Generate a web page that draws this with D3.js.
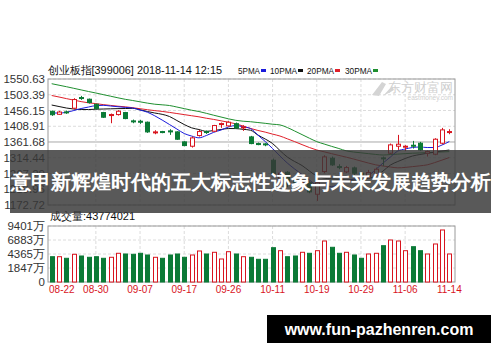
<!DOCTYPE html>
<html>
<head>
<meta charset="utf-8">
<script src="https://cdn.jsdelivr.net/npm/d3@7"></script>
<style>
  body { margin: 0; background: #fff; }
  svg { display: block; }
  text { font-family: "Liberation Sans", Arial, sans-serif; }
</style>
</head>
<body>
<div id="chart"></div>
<script>
const dates = ['08-22','08-23','08-24','08-27','08-28','08-29','08-30','08-31',
  '09-03','09-04','09-05','09-06','09-07','09-10','09-11','09-12','09-13','09-14','09-17','09-18','09-19','09-20','09-21','09-25','09-26','09-27','09-28',
  '10-08','10-09','10-10','10-11','10-12','10-15','10-16','10-17','10-18','10-19','10-22','10-23','10-24','10-25','10-26','10-29','10-30','10-31',
  '11-01','11-02','11-05','11-06','11-07','11-08','11-09','11-12','11-13','11-14'];
const dateTicks = ['08-22','08-30','09-07','09-17','09-26','10-11','10-19','10-29','11-06','11-14'];

const open  = [1453.7,1444.7,1452,1463,1495,1490,1475,1450,1441,1444,1450,1425,1424,1421,1390,1393,1395,1392,1362,1349,1381,1393,1394,1414,1410,1416.6,1405,1377,1357,1356,1307,1248,1271,1245,1230,1240,1205,1273,1313,1288,1272,1284,1268,1258,1262,1314,1328,1349,1347,1352,1358,1328,1325,1358,1391];
const high  = [1456,1455,1456,1493,1500,1492,1476,1452,1447,1457,1452,1429,1428,1423,1397,1395,1400,1394,1364,1378,1398,1396,1413,1420,1424,1420,1412,1380,1360,1358,1312,1275,1274,1250,1245,1244,1245,1322,1318,1295,1290,1288,1272,1278,1285,1318,1357,1383,1352,1365,1362,1336,1373,1404,1400];
const low   = [1440,1443,1446,1460,1488,1477,1459,1434,1418,1441,1430,1418,1416,1389,1385,1388,1383,1368,1349,1345,1378,1386,1392,1404,1408,1402,1395,1355,1352,1349,1263,1240,1226,1228,1226,1208,1185,1268,1290,1280,1268,1263,1252,1254,1258,1290,1325,1338,1335,1342,1335,1318,1322,1355,1385];
const close = [1443.5,1451.6,1450,1489,1493,1480,1462,1436,1444,1454,1432,1423,1422,1392,1392,1390,1392,1370,1351,1374,1393,1391,1411,1417,1421,1403.6,1407,1357,1356,1354,1267,1268,1236,1232,1240,1212,1240,1317,1293,1287,1285,1268,1258,1270,1280,1312,1353,1355,1349,1350,1338,1333,1370,1398,1393];

// volume in 万
const volume = [3880,3880,3593,4312,4006,3773,3880,3593,3773,4492,4366,4312,4492,4186,3773,3593,4186,4366,3773,4186,4906,4366,4672,3467,4780,4366,3880,
  3773,3413,3413,5500,4960,3880,4006,4672,4492,4960,6705,5572,4492,4672,4186,3593,4366,4492,5860,6885,6705,4960,5680,4960,4366,6165,8684,4366];

const ma5  = [1448.6,1448.6,1450.7,1456.1,1462.1,1466.6,1470.8,1471.7,1469.6,1467.5,1465.4,1463.6,1457.6,1451,1440.2,1427.6,1414.1,1400.6,1387.1,1379.6,1374.2,1381.1,1390.7,1397.6,1406.6,1411.1,1407.2,1402.1,1382.6,1363.1,1342.1,1319.6,1298.6,1280.6,1264.1,1247.6,1232.6,1230.2,1228.1,1234.1,1243.1,1250.6,1255.1,1261.1,1279.1,1298.6,1316.6,1334.6,1340.6,1345.1,1346.6,1345.1,1345.1,1352.6,1363.1];
const ma10 = [1472.6,1468.1,1463.6,1460.6,1459.1,1459.1,1460,1460.6,1461.2,1461.8,1462.1,1462.7,1458.2,1453.1,1448.6,1444.7,1438.1,1426.1,1414.1,1404.2,1399.1,1393.7,1396.1,1399.1,1402.1,1401.8,1399.7,1397,1382.6,1370.6,1357.1,1336.1,1316.6,1303.1,1291.1,1274.6,1259.6,1253.3,1251.2,1249.7,1248.2,1248.2,1250.3,1252.4,1259.6,1274.6,1292.6,1303.1,1312.1,1319.6,1324.1,1327.7,1331.3,1334.6,1337.6];
const ma20 = [1501.1,1496.6,1491.8,1487.3,1482.8,1479.2,1476.8,1473.8,1471.4,1469,1467.2,1464.5,1461.5,1458.5,1455.8,1453.4,1450.4,1447.1,1443.8,1440.5,1437.2,1433,1429.4,1425.2,1421,1416.2,1409.6,1402.4,1396.4,1391.3,1385.3,1379.6,1371.2,1362.8,1353.8,1345.1,1337.6,1332.2,1326.8,1321.4,1316.3,1310.6,1304.6,1298.6,1293.2,1289.6,1286.6,1284.2,1285.4,1287.8,1290.2,1293.2,1299.8,1307.3,1315.1];
const ma30 = [1536.5,1532,1527.5,1522.7,1517.9,1513.1,1508.6,1503.8,1499,1494.2,1489.7,1486.1,1482.2,1478.3,1475,1473.2,1471.1,1466.6,1461.8,1457,1453.1,1447.7,1442,1436.6,1431.2,1426.7,1424,1422.5,1420.1,1417.7,1415,1412.9,1405.1,1394.6,1383.8,1373,1362.8,1355.6,1348.7,1342.1,1335.2,1331.6,1329.2,1326.8,1324.4,1322.6,1324.1,1325.3,1326.8,1328,1328.9,1329.8,1331,1331.9,1332.8];

const priceTicks = [1550.63,1503.39,1456.15,1408.91,1361.68,1314.44,1267.20,1219.96,1172.72];
const volTicks = [9401,6883,4365,1847];

const maNames = ['5PMA','10PMA','20PMA','30PMA'];
const maColors = ['#1a1adb','#111111','#e0202a','#1f8f2f'];

const W = 500, H = 362;
const RED = '#d8141e', GREEN = '#0b7a36';

const svg = d3.select('#chart').append('svg')
    .attr('width', W).attr('height', H);

const left = 48, right = 455;
const pTop = 79, pBottom = 205;
const vTop = 226, vBottom = 282;

const x = d3.scaleBand().domain(dates).range([left, 453]);
const cx = d => x(d) + x.bandwidth() / 2;
const y = d3.scaleLinear().domain([priceTicks[priceTicks.length - 1], priceTicks[0]]).range([pBottom, pTop]);
const volStep = volTicks[0] - volTicks[1];
const yv = d3.scaleLinear().domain([volTicks[volTicks.length - 1] - volStep, volTicks[0]]).range([vBottom, vTop]);

// title + legend
svg.append('text')
    .attr('x', 48).attr('y', 74)
    .attr('font-family', '"Noto Sans CJK SC", sans-serif')
    .attr('font-size', 11).attr('fill', '#111')
    .attr('textLength', 174).attr('lengthAdjust', 'spacingAndGlyphs')
    .text('创业板指[399006] 2018-11-14 12:15');

const legendX = [238, 270, 307, 345];
const legend = svg.selectAll('.legend')
    .data(maNames)
    .enter().append('g')
    .attr('class', 'legend')
    .attr('transform', (d, i) => 'translate(' + legendX[i] + ',74)');
legend.append('text')
    .attr('font-size', 9.5).attr('fill', '#111')
    .attr('textLength', (d, i) => i === 0 ? 22 : 27)
    .attr('lengthAdjust', 'spacingAndGlyphs')
    .text(d => d);
legend.append('rect')
    .attr('x', (d, i) => i === 0 ? 23 : 28).attr('y', -5)
    .attr('width', 5).attr('height', 3)
    .attr('fill', (d, i) => maColors[i]);

// price panel grid
const gP = svg.append('g');
gP.selectAll('line.h')
    .data(priceTicks)
    .enter().append('line')
    .attr('x1', left).attr('x2', right)
    .attr('y1', d => y(d)).attr('y2', d => y(d))
    .attr('stroke', (d, i) => i === 4 ? '#a8a8a8' : '#dcdcdc')
    .attr('stroke-dasharray', (d, i) => i === 4 ? null : '3,2');
gP.selectAll('line.v')
    .data(dateTicks.slice(1, -1))
    .enter().append('line')
    .attr('x1', d => cx(d)).attr('x2', d => cx(d))
    .attr('y1', pTop).attr('y2', pBottom)
    .attr('stroke', '#dcdcdc').attr('stroke-dasharray', '3,2');
gP.append('rect')
    .attr('x', left).attr('y', pTop)
    .attr('width', right - left).attr('height', pBottom - pTop)
    .attr('fill', 'none').attr('stroke', '#9a9a9a');

// watermark
svg.append('text')
    .attr('x', 453).attr('y', 92).attr('text-anchor', 'end')
    .attr('font-family', '"Noto Sans CJK SC", sans-serif')
    .attr('font-size', 13).attr('fill', '#cfcfcf')
    .text('东方财富网');
svg.append('text')
    .attr('x', 453).attr('y', 100).attr('text-anchor', 'end')
    .attr('font-size', 6.5).attr('fill', '#cfcfcf')
    .text('eastmoney.com');
svg.append('path')
    .attr('d', 'M372,95 L382,82 L386,84 L379,96 Z M383,96 L392,86 L394,90 Z')
    .attr('fill', '#d4d4d4');

// price axis
const yAxis = d3.axisLeft(y).tickValues(priceTicks).tickFormat(d3.format('.2f')).tickSize(0).tickPadding(3);
svg.append('g')
    .attr('transform', 'translate(' + left + ',0)')
    .call(yAxis)
    .call(g => g.select('.domain').remove())
    .call(g => g.selectAll('text').attr('font-size', 11.5).attr('fill', '#333').attr('font-family', '"Liberation Sans", Arial, sans-serif'));

// MA lines
const maSeries = [ma5, ma10, ma20, ma30];
const line = d3.line().x((d, i) => cx(dates[i])).y(d => y(d)).curve(d3.curveMonotoneX);
svg.selectAll('path.ma')
    .data(maSeries.slice().reverse())
    .enter().append('path')
    .attr('class', 'ma')
    .attr('d', d => line(d))
    .attr('fill', 'none')
    .attr('stroke', (d, i) => maColors[3 - i])
    .attr('stroke-width', 1);

// candles
const candles = dates.map((d, i) => ({ date: d, o: open[i], h: high[i], l: low[i], c: close[i] }));
const bw = 5;
const cg = svg.selectAll('g.candle')
    .data(candles)
    .enter().append('g')
    .attr('class', 'candle');
cg.append('line')
    .attr('x1', d => Math.round(cx(d.date)) + 0.5).attr('x2', d => Math.round(cx(d.date)) + 0.5)
    .attr('y1', d => y(d.h)).attr('y2', d => y(d.l))
    .attr('stroke', d => d.c >= d.o ? RED : GREEN);
cg.append('rect')
    .attr('x', d => Math.round(cx(d.date)) - 2 + 0.5)
    .attr('y', d => y(Math.max(d.o, d.c)))
    .attr('width', bw - 1)
    .attr('height', d => Math.max(1, Math.abs(y(d.o) - y(d.c))))
    .attr('fill', d => d.c >= d.o ? '#fff' : GREEN)
    .attr('stroke', d => d.c >= d.o ? RED : GREEN);

// volume panel
svg.append('text')
    .attr('x', 50).attr('y', 220)
    .attr('font-family', '"Noto Sans CJK SC", sans-serif')
    .attr('font-size', 11).attr('fill', '#111')
    .text('成交量:43774021');

const gV = svg.append('g');
gV.selectAll('line.h')
    .data(volTicks)
    .enter().append('line')
    .attr('x1', left).attr('x2', right)
    .attr('y1', d => yv(d)).attr('y2', d => yv(d))
    .attr('stroke', '#dcdcdc').attr('stroke-dasharray', '3,2');
gV.selectAll('line.v')
    .data(dateTicks.slice(1, -1))
    .enter().append('line')
    .attr('x1', d => cx(d)).attr('x2', d => cx(d))
    .attr('y1', vTop).attr('y2', vBottom)
    .attr('stroke', '#dcdcdc').attr('stroke-dasharray', '3,2');
gV.append('rect')
    .attr('x', left).attr('y', vTop)
    .attr('width', right - left).attr('height', vBottom - vTop)
    .attr('fill', 'none').attr('stroke', '#9a9a9a');

const vAxis = d3.axisLeft(yv)
    .tickValues(volTicks.concat([yv.domain()[0]]))
    .tickFormat(d => d === yv.domain()[0] ? '0' : d + '万')
    .tickSize(0).tickPadding(3);
svg.append('g')
    .attr('transform', 'translate(' + left + ',0)')
    .call(vAxis)
    .call(g => g.select('.domain').remove())
    .call(g => g.selectAll('text').attr('font-size', 11.5).attr('fill', '#333').attr('font-family', '"Noto Sans CJK SC", sans-serif'));

gV.selectAll('rect.vol')
    .data(dates)
    .enter().append('rect')
    .attr('class', 'vol')
    .attr('x', d => Math.round(cx(d)) - 2 + 0.5)
    .attr('y', (d, i) => yv(volume[i]))
    .attr('width', bw - 1)
    .attr('height', (d, i) => vBottom - yv(volume[i]))
    .attr('fill', (d, i) => close[i] >= open[i] ? '#fff' : GREEN)
    .attr('stroke', (d, i) => close[i] >= open[i] ? RED : GREEN);

// date axis
const xAxis = d3.axisBottom(x).tickValues(dateTicks).tickSize(0).tickPadding(4);
svg.append('g')
    .attr('transform', 'translate(0,' + vBottom + ')')
    .call(xAxis)
    .call(g => g.select('.domain').remove())
    .call(g => g.selectAll('text')
        .attr('font-size', 10).attr('fill', RED)
        .attr('font-family', '"Liberation Sans", Arial, sans-serif')
        .attr('text-anchor', (d, i) => i === 0 ? 'start' : 'middle')
        .attr('dx', (d, i) => i === 0 ? -x.bandwidth() / 2 + 1 : 0));

// overlay banner
svg.append('rect')
    .attr('x', 10).attr('y', 150).attr('width', 481).attr('height', 63)
    .attr('fill', 'rgba(55,55,55,0.83)');
svg.append('text')
    .attr('x', 250.5).attr('y', 189)
    .attr('text-anchor', 'middle')
    .attr('font-family', '"Noto Sans CJK SC", sans-serif')
    .attr('font-weight', 'bold').attr('font-size', 20)
    .attr('fill', '#fff')
    .attr('textLength', 480).attr('lengthAdjust', 'spacingAndGlyphs')
    .text('意甲新辉煌时代的五大标志性迹象与未来发展趋势分析');

// site label
svg.append('rect')
    .attr('x', 267).attr('y', 315).attr('width', 224).attr('height', 28)
    .attr('fill', '#000');
svg.append('text')
    .attr('x', 379).attr('y', 335)
    .attr('text-anchor', 'middle')
    .attr('font-family', '"Open Sans", "DejaVu Sans", sans-serif')
    .attr('font-weight', 'bold').attr('font-size', 16)
    .attr('fill', '#fff')
    .text('www.fun-pazhenren.com');
</script>
</body>
</html>
